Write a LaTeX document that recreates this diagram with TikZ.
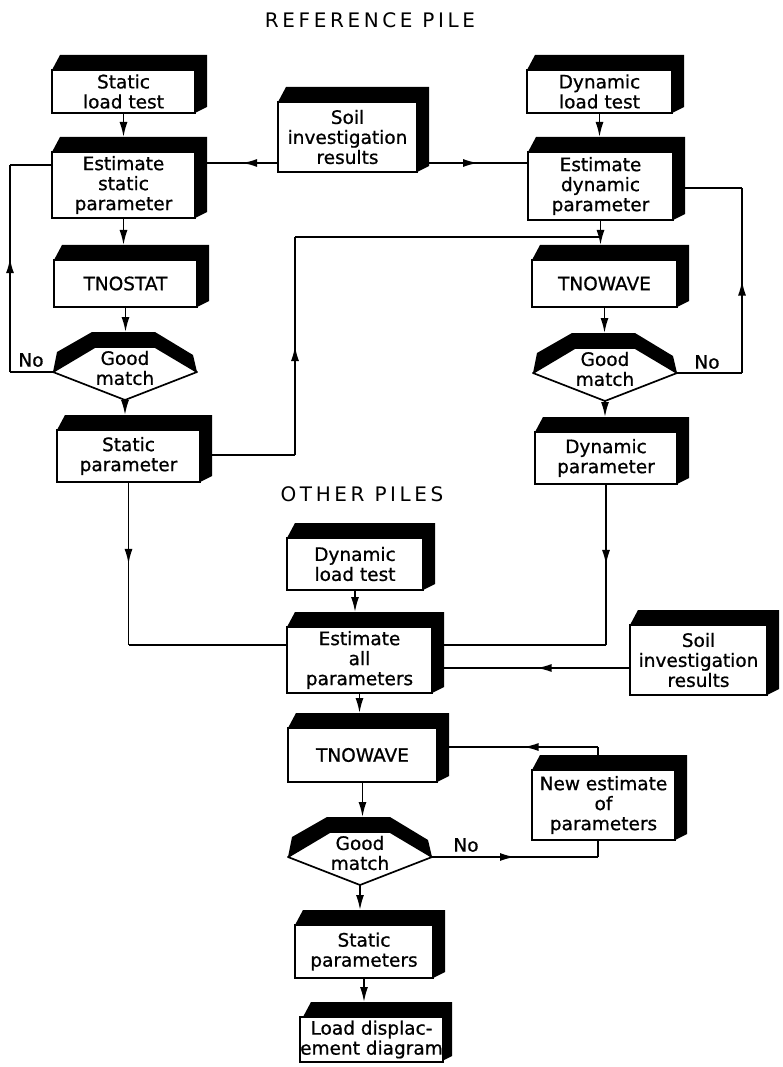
\documentclass[tikz,border=0pt]{standalone}
\usepackage{fontspec}
\setmainfont{DejaVu Sans}
\usetikzlibrary{arrows.meta,decorations.markings,calc}
\newcommand\boxfnt{\fontsize{18.5}{20}\selectfont\addfontfeature{FakeBold=0.8}}
\newcommand\ttlfnt{\fontsize{20}{24}\selectfont\addfontfeature{LetterSpace=18}}
\tikzset{
  box/.style={draw, line width=1.8pt, fill=white, inner sep=0pt, align=center, font=\boxfnt},
  conn/.style={line width=1.7pt},
  arr/.style={conn, -{Latex[length=15pt,width=8pt]}},
  midarrow/.style={conn, postaction={decorate}, decoration={markings, mark=at position #1 with {\arrow{Latex[length=15pt,width=8pt]}}}},
  midarrow/.default=0.5,
  lbl/.style={font=\boxfnt, inner sep=0pt, align=center},
  ttl/.style={font=\ttlfnt, inner sep=0pt}
}
% 3D box: name, x1, y1, x2, y2 (front face), text
\newcommand\pbx[6]{%
  \fill (#2,#3) -- ++(8,-15) -- (#4+12,#3-15) -- (#4+12,#5-6) -- (#4,#5) -- (#4,#3) -- cycle;
  \node[box, minimum width={(#4-#2)*1pt}, minimum height={(#5-#3)*1pt}] (#1) at ({(#2+#4)/2},{(#3+#5)/2}) {#6};
  \coordinate (#1-t) at ({(#2+#4)/2},#3-15);
}
% decision: name, cx, cy
\newcommand\gmd[3]{%
  \fill (#2-72,#3) -- (#2-68,#3-20) -- (#2-33,#3-40) -- (#2+30,#3-40) -- (#2+68,#3-17) -- (#2+72,#3) -- (#2+30,#3-25) -- (#2-30,#3-25) -- cycle;
  \draw[line width=1.7pt, line join=round] (#2-72,#3) -- (#2-30,#3-25) -- (#2+30,#3-25) -- (#2+72,#3) -- (#2,#3+28) -- cycle;
  \node[lbl] (#1) at (#2,#3-4) {Good\\match};
  \coordinate (#1-l) at (#2-72,#3);
  \coordinate (#1-r) at (#2+72,#3);
  \coordinate (#1-t) at (#2,#3-40);
  \coordinate (#1-b) at (#2,#3+28);
}
\begin{document}
\begin{tikzpicture}[x={(1pt,0)}, y={(0,-1pt)}]
\useasboundingbox (0,0) rectangle (782,1067);

\node[ttl] (t1) at (370,20) {REFERENCE PILE};
\node[ttl] (t2) at (362,494) {OTHER PILES};

% left column
\pbx{slt}{52}{70}{195}{113}{Static\\load test}
\pbx{esp}{52}{152}{195}{218}{Estimate\\static\\parameter}
\pbx{tnostat}{54}{260}{197}{307}{TNOSTAT}
\gmd{gma}{125}{372}
\pbx{sp}{57}{430}{200}{482}{Static\\parameter}

% right column
\pbx{dlt}{527}{70}{672}{113}{Dynamic\\load test}
\pbx{edp}{528}{152}{673}{220}{Estimate\\dynamic\\parameter}
\pbx{tnw}{532}{260}{677}{307}{TNOWAVE}
\gmd{gmb}{605}{373}
\pbx{dp}{535}{432}{677}{484}{Dynamic\\parameter}

% middle top
\pbx{soila}{278}{102}{417}{172}{Soil\\investigation\\results}

% other piles
\pbx{dltb}{287}{538}{423}{590}{Dynamic\\load test}
\pbx{eap}{287}{627}{432}{693}{Estimate\\all\\parameters}
\pbx{soilb}{630}{625}{767}{695}{Soil\\investigation\\results}
\pbx{tnwb}{288}{728}{437}{782}{TNOWAVE}
\pbx{nep}{532}{770}{675}{840}{New estimate\\of\\parameters}
\gmd{gmc}{360}{857}
\pbx{spp}{295}{925}{433}{978}{Static\\parameters}
\pbx{ldd}{303}{1017}{440}{1062}{Load displac-\\ement diagram}

% labels
\node[lbl] (noa) at (31,360) {No};
\node[lbl] (nob) at (707,362) {No};
\node[lbl] (noc) at (466,845) {No};

% left column connectors
\draw[arr] (slt.south) -- (slt.south |- esp-t);
\draw[arr] (esp.south) -- (esp.south |- tnostat-t);
\draw[arr] (tnostat.south) -- (tnostat.south |- gma-t);
\draw[arr] (gma-b) -- (gma-b |- sp-t);
\coordinate (fa) at (10,372);
\coordinate (fb) at (10,165);
\draw[conn] (gma-l) -- (fa);
\draw[midarrow=0.55] (fa) -- (fb);
\draw[conn] (fb) -- (fb -| esp.west);

% soil (top) connectors
\coordinate (ja) at (207,163);
\coordinate (jb) at (429,163);
\draw[midarrow] (soila.west |- ja) -- (ja);
\draw[midarrow] (jb) -- (jb -| edp.west);

% right column connectors
\draw[arr] (dlt.south) -- (dlt.south |- edp-t);
\draw[arr] (edp.south) -- (edp.south |- tnw-t);
\draw[arr] (tnw.south) -- (tnw.south |- gmb-t);
\draw[arr] (gmb-b) -- (gmb-b |- dp-t);
\coordinate (fc) at (685,188);
\coordinate (fd) at (742,188);
\coordinate (fe) at (742,373);
\draw[conn] (fc) -- (fd);
\draw[midarrow] (fe) -- (fd);
\draw[conn] (gmb-r) -- (fe);

% static parameter to TNOWAVE
\coordinate (jc) at (212,455);
\coordinate (jd) at (295,455);
\coordinate (je) at (295,237);
\draw[conn] (jc) -- (jd);
\draw[midarrow] (jd) -- (je);
\draw[conn] (je) -- (je -| edp.south);

% into other piles
\coordinate (jf) at (sp.south |- 0,645);
\draw[midarrow] (sp.south) -- (jf);
\draw[conn] (jf) -- (jf -| eap.west);
\coordinate (jg) at (dp.south |- 0,645);
\coordinate (jh) at (444,645);
\draw[midarrow] (dp.south) -- (jg);
\draw[conn] (jg) -- (jh);
\coordinate (ji) at (444,668);
\draw[midarrow] (soilb.west |- ji) -- (ji);

% other piles column
\draw[arr] (dltb.south) -- (dltb.south |- eap-t);
\draw[arr] (eap.south) -- (eap.south |- tnwb-t);
\draw[arr] (tnwb.south) -- (tnwb.south |- gmc-t);
\draw[arr] (gmc-b) -- (gmc-b |- spp-t);
\draw[arr] (spp.south) -- (spp.south |- ldd-t);

% iteration loop
\coordinate (nb) at (598,840);
\coordinate (nt) at (598,755);
\coordinate (jk) at (nb |- gmc-r);
\draw[midarrow] (gmc-r) -- (jk);
\draw[conn] (jk) -- (nb);
\coordinate (jl) at (449,747);
\coordinate (jm) at (nt |- jl);
\draw[conn] (nt) -- (jm);
\draw[midarrow] (jm) -- (jl);
\end{tikzpicture}
\end{document}
